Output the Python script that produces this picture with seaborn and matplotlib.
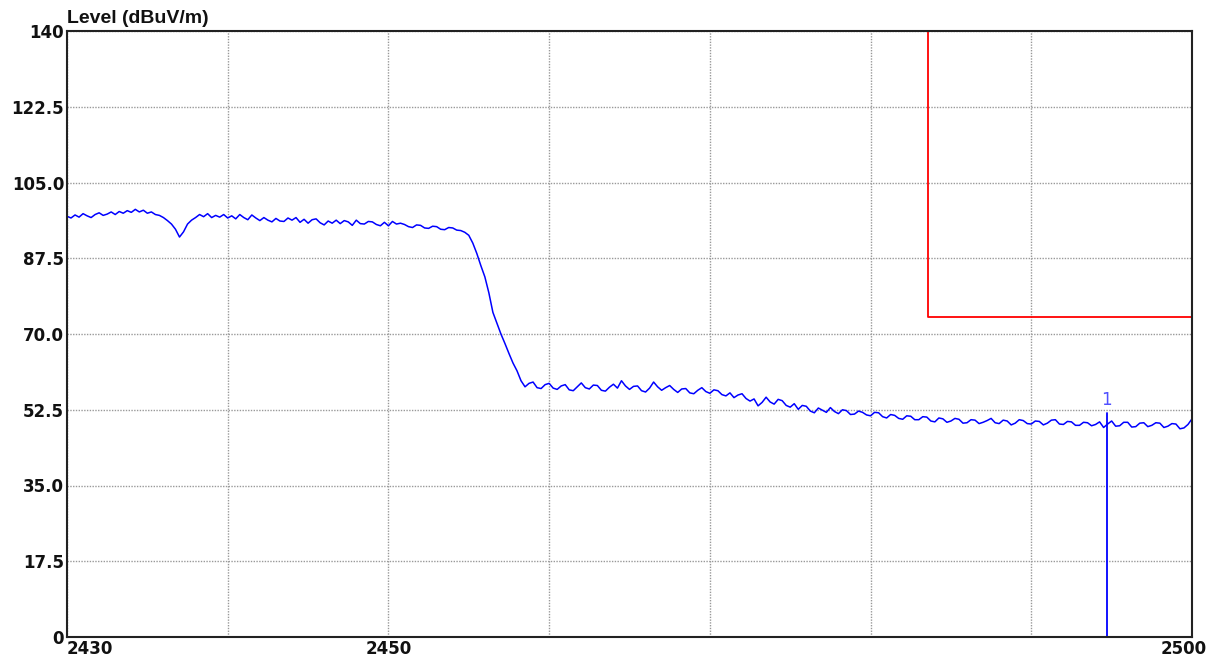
import numpy as np
import pandas as pd
import matplotlib
matplotlib.use("Agg")
import matplotlib.pyplot as plt
import matplotlib.transforms as mtransforms
import seaborn as sns

# spectrum trace, one reading every 0.25 MHz
freq_start = 2430.0
freq_step = 0.25
level = [
    97.2, 96.8, 97.5, 97.0, 97.8, 97.3, 96.9, 97.6, 98.0, 97.4, 97.7, 98.2, 97.6, 98.3, 97.9, 98.5, 98.1, 98.8, 98.2, 98.6,
    97.9, 98.2, 97.6, 97.4, 96.9, 96.2, 95.4, 94.2, 92.4, 93.6, 95.4, 96.3, 96.9, 97.6, 97.1, 97.8, 96.9, 97.4, 97.0, 97.6,
    96.8, 97.3, 96.6, 97.6, 96.9, 96.4, 97.5, 96.8, 96.2, 96.9, 96.3, 95.9, 96.7, 96.1, 96.0, 96.8, 96.3, 96.9, 95.8, 96.5,
    95.6, 96.4, 96.6, 95.7, 95.2, 96.1, 95.6, 96.3, 95.5, 96.2, 95.9, 95.1, 96.3, 95.5, 95.4, 96.0, 95.9, 95.3, 95.0, 95.8,
    95.0, 96.0, 95.4, 95.6, 95.3, 94.8, 94.6, 95.2, 95.1, 94.5, 94.4, 94.9, 94.8, 94.2, 94.1, 94.6, 94.5, 94.0, 93.9, 93.5,
    92.8, 91.0, 88.6, 85.8, 83.2, 79.5, 75.0, 72.5, 70.0, 67.8, 65.5, 63.3, 61.5, 59.2, 57.8, 58.6, 58.9, 57.6, 57.4, 58.3,
    58.6, 57.5, 57.2, 58.0, 58.3, 57.1, 56.9, 57.8, 58.7, 57.6, 57.3, 58.2, 58.1, 57.0, 56.8, 57.7, 58.4, 57.5, 59.2, 58.0,
    57.2, 57.9, 58.0, 56.9, 56.6, 57.5, 58.9, 57.8, 57.0, 57.6, 58.1, 57.2, 56.5, 57.3, 57.4, 56.4, 56.2, 57.0, 57.6, 56.7,
    56.3, 57.1, 56.9, 56.0, 55.7, 56.4, 55.3, 55.9, 56.2, 55.1, 54.5, 55.0, 53.4, 54.2, 55.4, 54.3, 53.8, 54.9, 54.6, 53.5,
    53.1, 53.9, 52.6, 53.5, 53.3, 52.2, 51.8, 52.9, 52.4, 51.9, 53.0, 52.1, 51.6, 52.5, 52.3, 51.4, 51.5, 52.2, 51.9, 51.3,
    51.1, 51.9, 51.8, 50.9, 50.6, 51.4, 51.2, 50.5, 50.3, 51.1, 51.0, 50.2, 50.2, 50.9, 50.8, 49.9, 49.7, 50.6, 50.4, 49.6,
    49.9, 50.5, 50.3, 49.4, 49.5, 50.2, 50.1, 49.3, 49.6, 50.0, 50.5, 49.5, 49.3, 50.1, 49.9, 49.0, 49.4, 50.2, 50.0, 49.3,
    49.2, 49.9, 49.8, 49.0, 49.4, 50.1, 50.2, 49.2, 49.1, 49.8, 49.7, 48.9, 48.9, 49.6, 49.5, 48.8, 49.1, 49.7, 48.4, 49.2,
    49.9, 48.7, 48.8, 49.6, 49.6, 48.5, 48.6, 49.4, 49.5, 48.6, 48.9, 49.5, 49.4, 48.4, 48.7, 49.3, 49.2, 48.1, 48.3, 49.1,
    50.4,
]
freq = [freq_start + i * freq_step for i in range(len(level))]

# limit line (red) and marker 1
limit_freq = [2483.6, 2483.6, 2500.0]
limit_level = [140.0, 74.0, 74.0]
marker_freq = 2494.7
marker_level = 51.7

x_ticks = [2430, 2440, 2450, 2460, 2470, 2480, 2490, 2500]
x_labels = ["2430", "", "2450", "", "", "", "", "2500"]
y_ticks = [0, 17.5, 35, 52.5, 70, 87.5, 105, 122.5, 140]
y_labels = ["0", "17.5", "35.0", "52.5", "70.0", "87.5", "105.0", "122.5", "140"]

sns.set_style("white")
plt.rcParams['font.family'] = ['DejaVu Sans']

fig = plt.figure(figsize=(12.24, 6.65), dpi=100)
ax = fig.add_axes([67 / 1224, 1 - 637 / 665, (1192 - 67) / 1224, (637 - 31) / 665])

df = pd.DataFrame({'freq': freq, 'level': level})
sns.lineplot(data=df, x='freq', y='level', ax=ax, color='#0000ff', lw=1.1)
ax.plot(limit_freq, limit_level, color='#ff0000', lw=1.3)
ax.plot([marker_freq, marker_freq], [0, marker_level], color='#0000ff', lw=1.3)
ax.text(marker_freq, marker_level + 1.0, "1", color='#5050ff', fontsize=12,
        ha='center', va='bottom')

ax.set_xlim(2430, 2500)
ax.set_ylim(0, 140)
ax.set_xticks(x_ticks)
ax.set_xticklabels(x_labels, fontsize=12, fontweight='bold', color='#111111')
ax.set_yticks(y_ticks)
ax.set_yticklabels(y_labels, fontsize=12, fontweight='bold', color='#111111')
ax.tick_params(length=0, pad=2)
ax.set_xlabel("")
ax.set_ylabel("")
ax.grid(True, color='#999999', linestyle=(0, (1, 1)), lw=1.0)

# first and last x label sit at the plot edges
xl = ax.get_xticklabels()
xl[0].set_ha('left')
xl[-1].set_transform(xl[-1].get_transform() +
                     mtransforms.ScaledTranslation(-0.08, 0, fig.dpi_scale_trans))

for s in ax.spines.values():
    s.set_color('#222222')
    s.set_linewidth(1.5)

fig.text(67 / 1224, 1 - 23 / 665, "Level (dBuV/m)", fontsize=14, fontweight='bold',
         family=['Liberation Sans', 'DejaVu Sans'], color='#111111',
         ha='left', va='baseline')

fig.savefig('out.png', dpi=100, facecolor='white')
